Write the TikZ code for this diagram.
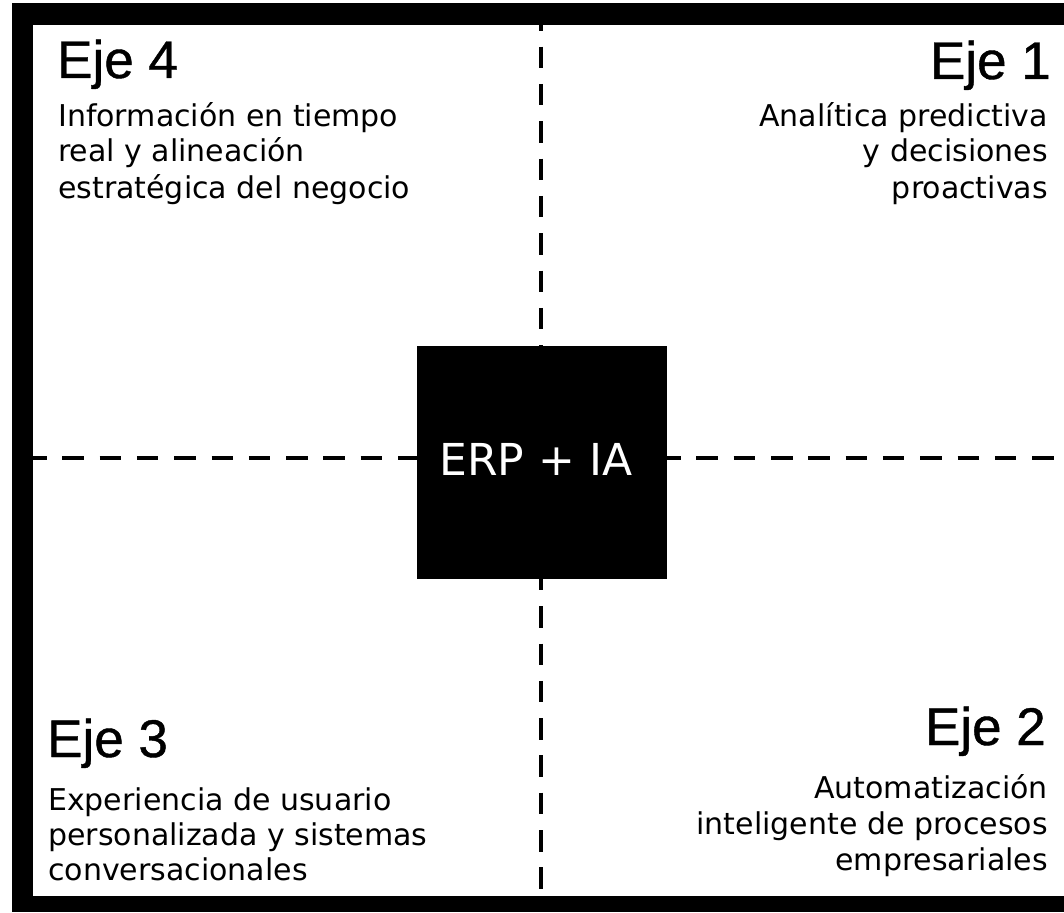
\documentclass[tikz,border=0pt]{standalone}
\usepackage{fontspec}
\setmainfont{DejaVu Sans}
\newfontfamily\headfont[FakeBold=0.8]{Liberation Sans}
\newfontfamily\bodyfont{DejaVu Sans}
\begin{document}
\begin{tikzpicture}[x=1pt,y=-1pt,
  heading/.style={inner sep=0pt, font=\headfont\fontsize{53}{60}\selectfont},
  body/.style={inner sep=0pt, font=\bodyfont\fontsize{30}{36}\selectfont},
  axis/.style={line width=4.5pt, dash pattern=on 21.5pt off 15.8pt},
  core/.style={fill=black, draw=none, minimum width=250pt, minimum height=233pt, inner sep=0pt},
  coretext/.style={text=white, inner sep=0pt, font=\bodyfont\fontsize{44}{50}\selectfont}]
\useasboundingbox (0,0) rectangle (1064,912);
% frame
\fill[black] (12,3) rectangle (1064,912);
\fill[white] (33,25) rectangle (1064,896);
% axes
\coordinate (L) at (25,458);
\coordinate (R) at (1064,458);
\coordinate (T) at (541,9.4);
\coordinate (B) at (541,896);
\begin{scope}
\clip (33,25) rectangle (1064,896);
\draw[axis] (L) -- (R);
\draw[axis] (T) -- (B);
\end{scope}
% center
\node[core] (erp) at (542,462.5) {};
\node[coretext, anchor=base] (erptext) at (536,475) {ERP + IA};
% Eje 4
\node[heading, anchor=base west] (h4) at (57,78) {Eje 4};
\node[body, anchor=base west, align=left] (b4) at (58,198) {Información en tiempo\\real y alineación\\estratégica del negocio};
% Eje 1
\node[heading, anchor=base east] (h1) at (1051,79) {Eje 1};
\node[body, anchor=base east, align=right] (b1) at (1048,198) {Analítica predictiva\\y decisiones\\proactivas};
% Eje 3
\node[heading, anchor=base west] (h3) at (47,757) {Eje 3};
\node[body, anchor=base west, align=left, font=\bodyfont\fontsize{30}{35}\selectfont] (b3) at (48,880) {Experiencia de usuario\\personalizada y sistemas\\conversacionales};
% Eje 2
\node[heading, anchor=base east] (h2) at (1046,745) {Eje 2};
\node[body, anchor=base east, align=right] (b2) at (1048,870) {Automatización\\inteligente de procesos\\empresariales};
\end{tikzpicture}
\end{document}
